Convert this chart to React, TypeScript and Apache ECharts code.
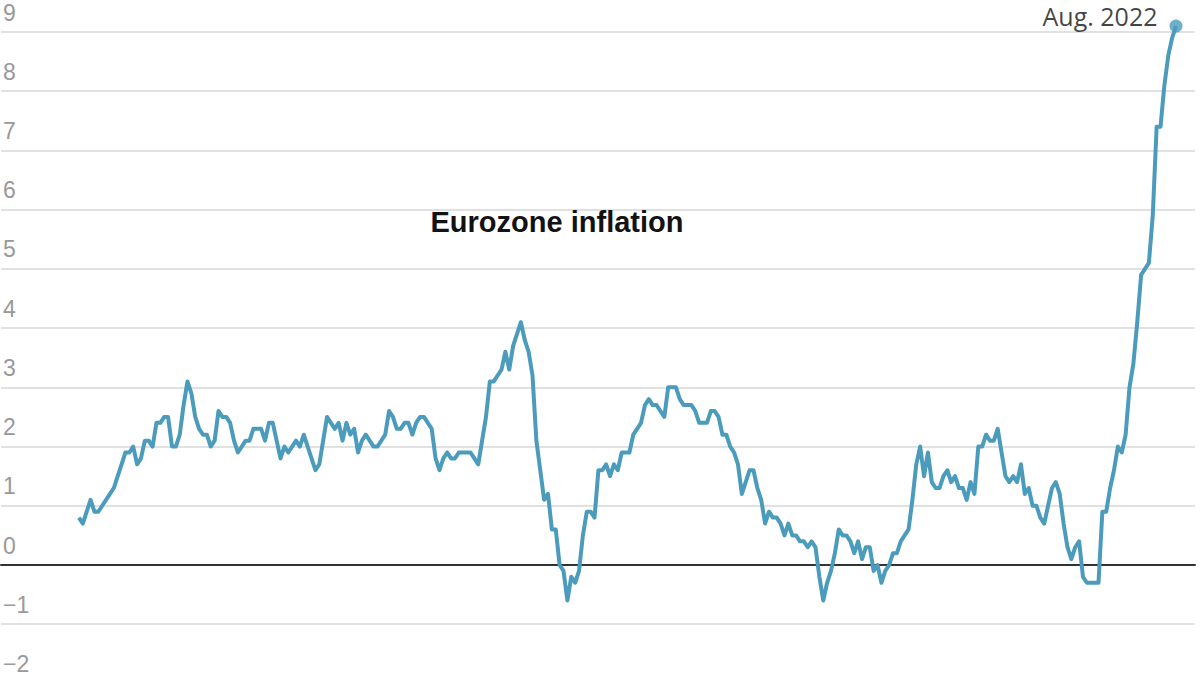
import React, { useEffect, useRef } from "react";
import * as echarts from "echarts";

// Euro area annual inflation, monthly, Jan. 1999 – Aug. 2022 (percent)
const startYear = 1999;
const values: number[] = [
  // 1999
  0.8, 0.7, 0.9, 1.1, 0.9, 0.9, 1.0, 1.1, 1.2, 1.3, 1.5, 1.7,
  // 2000
  1.9, 1.9, 2.0, 1.7, 1.8, 2.1, 2.1, 2.0, 2.4, 2.4, 2.5, 2.5,
  // 2001
  2.0, 2.0, 2.2, 2.7, 3.1, 2.9, 2.5, 2.3, 2.2, 2.2, 2.0, 2.1,
  // 2002
  2.6, 2.5, 2.5, 2.4, 2.1, 1.9, 2.0, 2.1, 2.1, 2.3, 2.3, 2.3,
  // 2003
  2.1, 2.4, 2.4, 2.1, 1.8, 2.0, 1.9, 2.0, 2.1, 2.0, 2.2, 2.0,
  // 2004
  1.8, 1.6, 1.7, 2.1, 2.5, 2.4, 2.3, 2.4, 2.1, 2.4, 2.2, 2.3,
  // 2005
  1.9, 2.1, 2.2, 2.1, 2.0, 2.0, 2.1, 2.2, 2.6, 2.5, 2.3, 2.3,
  // 2006
  2.4, 2.4, 2.2, 2.4, 2.5, 2.5, 2.4, 2.3, 1.8, 1.6, 1.8, 1.9,
  // 2007
  1.8, 1.8, 1.9, 1.9, 1.9, 1.9, 1.8, 1.7, 2.1, 2.5, 3.1, 3.1,
  // 2008
  3.2, 3.3, 3.6, 3.3, 3.7, 3.9, 4.1, 3.8, 3.6, 3.2, 2.1, 1.6,
  // 2009
  1.1, 1.2, 0.6, 0.6, 0.0, -0.1, -0.6, -0.2, -0.3, -0.1, 0.5, 0.9,
  // 2010
  0.9, 0.8, 1.6, 1.6, 1.7, 1.5, 1.7, 1.6, 1.9, 1.9, 1.9, 2.2,
  // 2011
  2.3, 2.4, 2.7, 2.8, 2.7, 2.7, 2.6, 2.5, 3.0, 3.0, 3.0, 2.8,
  // 2012
  2.7, 2.7, 2.7, 2.6, 2.4, 2.4, 2.4, 2.6, 2.6, 2.5, 2.2, 2.2,
  // 2013
  2.0, 1.9, 1.7, 1.2, 1.4, 1.6, 1.6, 1.3, 1.1, 0.7, 0.9, 0.8,
  // 2014
  0.8, 0.7, 0.5, 0.7, 0.5, 0.5, 0.4, 0.4, 0.3, 0.4, 0.3, -0.2,
  // 2015
  -0.6, -0.3, -0.1, 0.2, 0.6, 0.5, 0.5, 0.4, 0.2, 0.4, 0.1, 0.3,
  // 2016
  0.3, -0.1, 0.0, -0.3, -0.1, 0.0, 0.2, 0.2, 0.4, 0.5, 0.6, 1.1,
  // 2017
  1.7, 2.0, 1.5, 1.9, 1.4, 1.3, 1.3, 1.5, 1.6, 1.4, 1.5, 1.3,
  // 2018
  1.3, 1.1, 1.4, 1.2, 2.0, 2.0, 2.2, 2.1, 2.1, 2.3, 1.9, 1.5,
  // 2019
  1.4, 1.5, 1.4, 1.7, 1.2, 1.3, 1.0, 1.0, 0.8, 0.7, 1.0, 1.3,
  // 2020
  1.4, 1.2, 0.7, 0.3, 0.1, 0.3, 0.4, -0.2, -0.3, -0.3, -0.3, -0.3,
  // 2021
  0.9, 0.9, 1.3, 1.6, 2.0, 1.9, 2.2, 3.0, 3.4, 4.1, 4.9, 5.0,
  // 2022
  5.1, 5.9, 7.4, 7.4, 8.1, 8.6, 8.9, 9.1,
];

const monthNames = ["Jan.", "Feb.", "March", "April", "May", "June", "July", "Aug.", "Sept.", "Oct.", "Nov.", "Dec."];
const months: string[] = values.map(
  (_, i) => `${monthNames[i % 12]} ${startYear + Math.floor(i / 12)}`
);

const yTicks = { min: -2, max: 9, step: 1 };
const chartTitle = "Eurozone inflation";
const endLabel = "Aug. 2022";

const LINE_COLOR = "#4b9bbd";

export default function App() {
  const ref = useRef<HTMLDivElement>(null);

  useEffect(() => {
    document.documentElement.style.overflow = "hidden";
    document.body.style.margin = "0";
    document.body.style.overflow = "hidden";
    if (!ref.current) return;
    const chart = echarts.init(ref.current, undefined, { renderer: "svg" });

    const n = values.length;
    const seriesData = values.map((v, i) => [i, v]);
    const last = n - 1;
    // horizontal scale: first point at x=78px, last at x=1176px, grid 0..1195
    const pxPerMonth = (1176 - 78) / last;
    const xMin = -78 / pxPerMonth;
    const xMax = last + (1195 - 1176) / pxPerMonth;
    const pxPerUnit = (565 - 32) / 9;

    chart.setOption({
      animation: false,
      title: {
        text: chartTitle,
        left: 557,
        top: 207,
        padding: 0,
        textAlign: "center",
        textStyle: {
          fontFamily: "Liberation Sans",
          fontWeight: "bold",
          fontSize: 29,
          color: "#121212",
        },
      },
      grid: {
        left: 0,
        top: 32,
        width: 1195,
        height: pxPerUnit * (yTicks.max - yTicks.min),
        containLabel: false,
      },
      xAxis: {
        type: "value",
        min: xMin,
        max: xMax,
        axisLine: {
          show: true,
          onZero: true,
          lineStyle: { color: "#333333", width: 2 },
        },
        axisTick: { show: false },
        axisLabel: { show: false },
        splitLine: { show: false },
      },
      yAxis: {
        type: "value",
        min: yTicks.min,
        max: yTicks.max,
        interval: yTicks.step,
        axisLine: { show: false },
        axisTick: { show: false },
        axisLabel: {
          inside: true,
          margin: 2,
          verticalAlign: "bottom",
          lineHeight: 19,
          padding: [0, 0, 10, 0],
          fontFamily: "Liberation Sans",
          fontSize: 23,
          color: "#999999",
          formatter: (v: number) => (v < 0 ? "\u2212" + Math.abs(v) : String(v)),
        },
        splitLine: {
          show: true,
          lineStyle: { color: "#e1e1e1", width: 2 },
        },
      },
      series: [
        {
          type: "line",
          name: chartTitle,
          data: seriesData,
          showSymbol: false,
          symbol: "none",
          clip: false,
          lineStyle: { color: LINE_COLOR, width: 4, join: "round" },
          z: 3,
        },
        {
          type: "scatter",
          data: [[last, values[last]]],
          symbolSize: 13,
          clip: false,
          itemStyle: { color: LINE_COLOR },
          z: 4,
          label: {
            show: true,
            formatter: endLabel,
            position: "left",
            distance: 12,
            offset: [0, -10],
            lineHeight: 20,
            fontFamily: "Open Sans",
            fontSize: 25,
            color: "#111111",
          },
        },
      ],
      tooltip: {
        show: false,
        formatter: (p: any) => months[p.data[0]],
      },
    });

    return () => chart.dispose();
  }, []);

  return <div ref={ref} style={{ width: 1200, height: 700 }} />;
}
